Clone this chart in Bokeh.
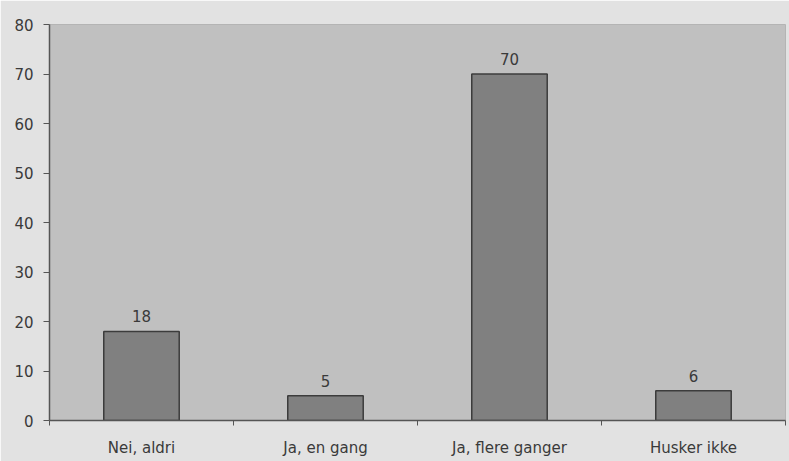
from bokeh.plotting import figure
from bokeh.models import ColumnDataSource, FixedTicker, Range1d
from bokeh.embed import file_html
from bokeh.resources import INLINE

# Survey answers and counts
categories = ["Nei, aldri", "Ja, en gang", "Ja, flere ganger", "Husker ikke"]
counts = [18, 5, 70, 6]
y_ticks = [0, 10, 20, 30, 40, 50, 60, 70, 80]

FONT = "DejaVu Sans"
TEXT_COLOR = "#3a3a3a"

positions = list(range(1, len(categories) + 1))
source = ColumnDataSource(data=dict(
    x=positions,
    count=counts,
    label=[str(c) for c in counts],
))

p = figure(
    width=789, height=461,
    output_backend="svg", toolbar_location=None,
    x_range=Range1d(0.5, len(categories) + 0.5),
    y_range=Range1d(0, 80),
    min_border_left=49, min_border_right=4,
    min_border_top=24, min_border_bottom=41,
)
p.background_fill_color = "#c0c0c0"
p.border_fill_color = "#e2e2e2"
p.outline_line_color = "#b4b4b4"
p.grid.visible = False

p.vbar(x="x", top="count", width=0.41, source=source,
       fill_color="#808080", line_color="#3c3c3c", line_width=1.5)

p.text(x="x", y="count", text="label", source=source,
       text_align="center", text_baseline="bottom", y_offset=-9,
       text_font_size="15px", text_color=TEXT_COLOR,
       text_font={"value": FONT})

# Category axis: labels centred, small ticks at the boundaries
xa = p.xaxis[0]
xa.ticker = FixedTicker(ticks=positions,
                        minor_ticks=[i + 0.5 for i in range(len(categories) + 1)])
xa.major_label_overrides = {i: c for i, c in zip(positions, categories)}
xa.major_tick_line_color = None
xa.major_tick_out = 0
xa.major_tick_in = 0
xa.minor_tick_out = 5
xa.minor_tick_in = 0
xa.minor_tick_line_color = "#555555"
xa.axis_line_color = "#555555"
xa.axis_line_width = 1.5
xa.major_label_standoff = 13
xa.major_label_text_font = FONT
xa.major_label_text_font_size = "15px"
xa.major_label_text_color = TEXT_COLOR

ya = p.yaxis[0]
ya.ticker = FixedTicker(ticks=y_ticks)
ya.minor_tick_line_color = None
ya.major_tick_out = 6
ya.major_tick_in = 0
ya.major_tick_line_color = "#555555"
ya.axis_line_color = "#555555"
ya.axis_line_width = 1.5
ya.major_label_standoff = 10
ya.major_label_text_font = FONT
ya.major_label_text_font_size = "15px"
ya.major_label_text_color = TEXT_COLOR

open("out.html", "w").write(file_html(p, INLINE))
